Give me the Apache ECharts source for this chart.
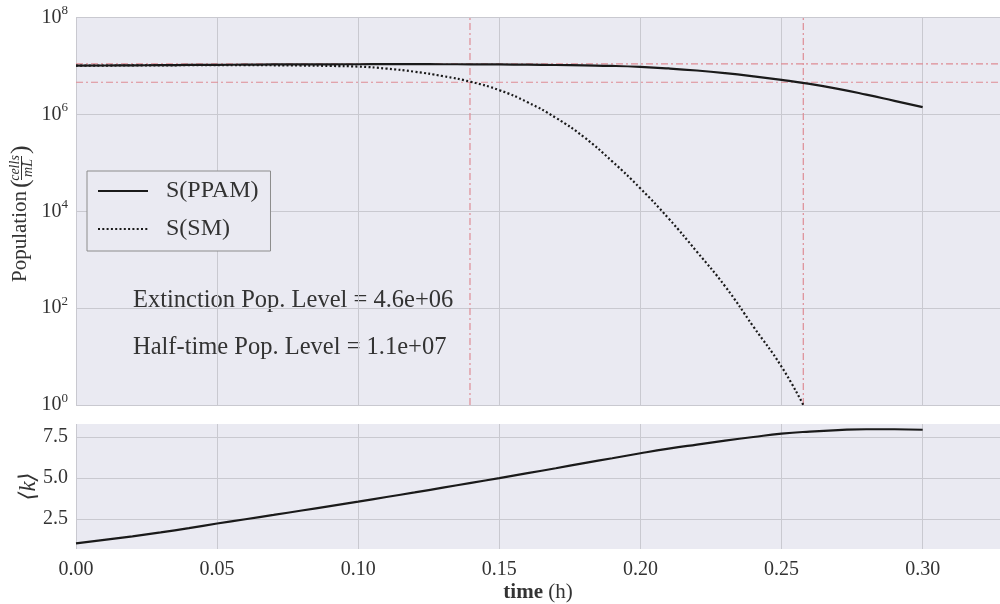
<!DOCTYPE html>
<html>
<head>
<meta charset="utf-8">
<script src="https://cdn.jsdelivr.net/npm/echarts@6/dist/echarts.min.js"></script>
<style>
html,body{margin:0;padding:0;background:#fff;}
#chart{width:1000px;height:604px;}
</style>
</head>
<body>
<div id="chart"></div>
<script>
// ---- data ----
const timesPPAM = [0.00,0.01,0.02,0.03,0.04,0.05,0.06,0.07,0.08,0.09,0.10,0.11,0.12,0.13,0.14,0.15,0.16,0.17,0.18,0.19,0.20,0.21,0.22,0.23,0.24,0.25,0.26,0.27,0.28,0.29,0.30];
const popPPAM = [1.012e7,1.021e7,1.028e7,1.037e7,1.047e7,1.054e7,1.064e7,1.072e7,1.076e7,1.081e7,1.084e7,1.086e7,1.086e7,1.084e7,1.081e7,1.072e7,1.062e7,1.045e7,1.023e7,1.0e7,9.55e6,8.87e6,8.04e6,7.10e6,6.11e6,5.15e6,4.25e6,3.37e6,2.56e6,1.90e6,1.41e6];
const timesSM = [0.00,0.02,0.04,0.06,0.08,0.09,0.10,0.11,0.12,0.13,0.14,0.15,0.16,0.17,0.18,0.19,0.20,0.21,0.22,0.23,0.24,0.25,0.2577];
const popSM = [1.012e7,1.023e7,1.033e7,1.035e7,1.019e7,1.0e7,9.70e6,8.81e6,7.59e6,6.17e6,4.68e6,3.16e6,1.78e6,8.51e5,3.39e5,1.07e5,2.95e4,7.08e3,1.46e3,282,41.7,6.17,1.0];
const meanK = [1.03,1.24,1.46,1.70,1.96,2.24,2.50,2.76,3.03,3.30,3.57,3.85,4.13,4.42,4.71,5.00,5.30,5.60,5.91,6.21,6.51,6.79,7.04,7.28,7.50,7.70,7.83,7.92,7.97,7.97,7.94];
const extinctionLevel = 4.6e6;
const halfTimeLevel = 1.1e7;
const extinctionTimes = [0.1396, 0.2577];
const kTicks = [2.5,5.0,7.5];
const seriesNames = ['S(PPAM)','S(SM)'];

const FONT = '"Liberation Serif", "DejaVu Serif", serif';
const TXT = '#333333';
const GRIDC = '#c9c9d0';
const BG = '#eaeaf2';
const REF = '#de8c94';
const XMAX = 0.3274;

function sci(v){
  const s = v.toExponential(1);
  const m = s.match(/^(.*)e([+-])(\d+)$/);
  return m[1] + 'e' + m[2] + (m[3].length < 2 ? '0' + m[3] : m[3]);
}
const pairs = (xs, ys) => xs.map((x,i)=>[x, ys[i]]);
const refStyle = {color:REF, width:1.2, type:[7,3,2,3]};

const refSeries = [];
extinctionTimes.forEach((t,i)=>{
  refSeries.push({name:'vref'+i, type:'line', xAxisIndex:0, yAxisIndex:0, silent:true,
    data:[[t,1],[t,1e8]], showSymbol:false, symbol:'none', color:REF, lineStyle:refStyle, z:1});
});
[halfTimeLevel, extinctionLevel].forEach((lv,i)=>{
  refSeries.push({name:'href'+i, type:'line', xAxisIndex:0, yAxisIndex:0, silent:true,
    data:[[0,lv],[XMAX,lv]], showSymbol:false, symbol:'none', color:REF, lineStyle:refStyle, z:1});
});

const chart = echarts.init(document.getElementById('chart'), null, {renderer:'canvas'});
const option = {
  animation:false,
  backgroundColor:'#ffffff',
  textStyle:{fontFamily:FONT, color:TXT},
  grid:[
    {left:76, right:0, top:17.5, height:387.5, show:true, backgroundColor:BG, borderWidth:0},
    {left:76, right:0, top:424, height:127.7, show:true, backgroundColor:BG, borderWidth:0}
  ],
  xAxis:[
    {type:'value', gridIndex:0, min:0, max:XMAX, interval:0.05,
     axisLine:{show:false}, axisTick:{show:false}, axisLabel:{show:false},
     splitLine:{show:true, lineStyle:{color:GRIDC, width:1}}},
    {type:'value', gridIndex:1, min:0, max:XMAX, interval:0.05,
     axisLine:{show:false}, axisTick:{show:false},
     axisLabel:{show:true, showMaxLabel:false, margin:11, fontSize:20, fontFamily:FONT, color:TXT,
       formatter:v=>v.toFixed(2)},
     splitLine:{show:true, lineStyle:{color:GRIDC, width:1}},
     name:'{b|time} (h)', nameLocation:'middle', nameGap:33,
     nameTextStyle:{fontSize:21, fontFamily:FONT, color:TXT, rich:{b:{fontSize:21, fontWeight:'bold', fontFamily:FONT, color:TXT}}}}
  ],
  yAxis:[
    {type:'log', gridIndex:0, logBase:100, min:1, max:1e8,
     axisLine:{show:false}, axisTick:{show:false},
     axisLabel:{show:true, margin:8, color:TXT,
       formatter:v=>'{a|10}{s|'+Math.round(Math.log10(v))+'}',
       rich:{a:{fontSize:20, fontFamily:FONT, color:TXT, lineHeight:26},
             s:{fontSize:13, fontFamily:FONT, color:TXT, lineHeight:14, verticalAlign:'top'}}},
     splitLine:{show:true, lineStyle:{color:GRIDC, width:1}}},
    {type:'value', gridIndex:1, min:0.69, max:8.29,
     axisLine:{show:false},
     axisTick:{show:false, customValues:kTicks},
     axisLabel:{show:true, margin:8, fontSize:20, fontFamily:FONT, color:TXT, customValues:kTicks,
       formatter:v=>v.toFixed(1)},
     splitLine:{show:true, lineStyle:{color:GRIDC, width:1}},
     name:'⟨k⟩', nameLocation:'middle', nameRotate:90, nameGap:36, nameMoveOverlap:false,
     nameTextStyle:{fontSize:23, fontFamily:FONT, color:TXT, fontStyle:'italic'}}
  ],
  legend:{
    orient:'vertical', left:87, top:171,
    itemWidth:50, itemHeight:20, itemGap:14,
    padding:[8,12,10,10],
    borderColor:'#8c8c8c', borderWidth:1, backgroundColor:BG,
    itemStyle:{opacity:0},
    textStyle:{fontSize:24, fontFamily:FONT, color:TXT, padding:[0,0,0,13]},
    data:seriesNames
  },
  series:[
    {name:seriesNames[0], type:'line', xAxisIndex:0, yAxisIndex:0,
     data:pairs(timesPPAM, popPPAM), showSymbol:false, symbol:'none', smooth:true,
     color:'#1a1a1a', lineStyle:{color:'#1a1a1a', width:2.2}, z:3},
    {name:seriesNames[1], type:'line', xAxisIndex:0, yAxisIndex:0,
     data:pairs(timesSM, popSM), showSymbol:false, symbol:'none', smooth:true,
     color:'#1a1a1a', lineStyle:{color:'#1a1a1a', width:2.2, type:[2,2.3]}, z:3},
    {name:'k', type:'line', xAxisIndex:1, yAxisIndex:1,
     data:pairs(timesPPAM, meanK), showSymbol:false, symbol:'none', smooth:true,
     color:'#1a1a1a', lineStyle:{color:'#1a1a1a', width:2.2}}
  ].concat(refSeries),
  graphic:[
    {type:'text', left:133, top:288, style:{text:'Extinction Pop. Level = ' + sci(extinctionLevel), fontSize:24.5, fontFamily:FONT, fill:TXT}},
    {type:'text', left:133, top:335, style:{text:'Half-time Pop. Level = ' + sci(halfTimeLevel), fontSize:24.5, fontFamily:FONT, fill:TXT}},
    {type:'group', x:20, y:282, rotation:Math.PI/2, children:[
      {type:'text', x:0, y:0, style:{text:'Population', fontSize:21, fontFamily:FONT, fill:TXT, align:'left', verticalAlign:'middle'}},
      {type:'text', x:94, y:1, style:{text:'(', fontSize:26, fontFamily:FONT, fill:TXT, align:'left', verticalAlign:'middle'}},
      {type:'text', x:114, y:-5, style:{text:'cells', fontSize:14, fontStyle:'italic', fontFamily:FONT, fill:TXT, align:'center', verticalAlign:'middle'}},
      {type:'line', shape:{x1:102, y1:1.5, x2:126, y2:1.5}, style:{stroke:TXT, lineWidth:1}},
      {type:'text', x:114, y:8, style:{text:'mL', fontSize:14, fontStyle:'italic', fontFamily:FONT, fill:TXT, align:'center', verticalAlign:'middle'}},
      {type:'text', x:128, y:1, style:{text:')', fontSize:26, fontFamily:FONT, fill:TXT, align:'left', verticalAlign:'middle'}}
    ]}
  ]
};
chart.setOption(option);
</script>
</body>
</html>
